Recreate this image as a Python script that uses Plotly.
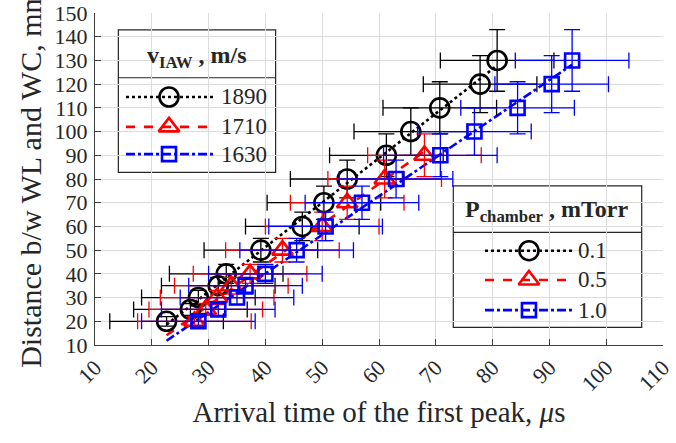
import numpy as np
import plotly.graph_objects as go

# ---- data ----
black_x = [22.6, 26.8, 28.2, 31.7, 33.1, 39.2, 46.5, 50.3, 54.4, 61.3, 65.6, 70.7, 77.8, 80.8]
black_y = [20, 25, 30, 35, 40, 50, 60, 70, 80, 90, 100, 110, 120, 130]
red_x = [27.5, 29.5, 31.5, 34.0, 37.3, 43.0, 50.0, 54.4, 61.0, 68.0]
red_y = [20, 25, 30, 35, 40, 50, 60, 70, 80, 90]
blue_x = [28.2, 31.7, 35.0, 36.5, 40.0, 45.5, 50.6, 57.0, 63.0, 70.8, 76.8, 84.4, 90.4, 94.0]
blue_y = [20, 25, 30, 35, 40, 50, 60, 70, 80, 90, 100, 110, 120, 130]
x_err = 10.0          # +/- arrival-time uncertainty, us
y_err_frac = 0.10     # +/- 10 % distance uncertainty
fit_start = 22.6      # fits drawn from the earliest arrival time

v_labels = ["1890", "1710", "1630"]
p_labels = ["0.1", "0.5", "1.0"]
x_ticks = list(range(10, 111, 10))
y_ticks = list(range(10, 151, 10))

FONT = "Liberation Serif"
TXT = "#262626"

series = [
    dict(x=black_x, y=black_y, color="black", symbol="circle-open", size=19, dash="dot"),
    dict(x=red_x, y=red_y, color="red", symbol="triangle-up-open", size=18, dash="dash"),
    dict(x=blue_x, y=blue_y, color="blue", symbol="square-open", size=14, dash="dashdot"),
]

fig = go.Figure()

# fitted lines
for s in series:
    k, b = np.polyfit(s["x"], s["y"], 1)
    xs = np.array([fit_start, max(s["x"])])
    fig.add_trace(go.Scatter(x=xs, y=k * xs + b, mode="lines",
                             line=dict(color=s["color"], width=2.6, dash=s["dash"]),
                             showlegend=False, hoverinfo="skip"))

# data with error bars
for s in series:
    yy = np.array(s["y"], dtype=float)
    fig.add_trace(go.Scatter(
        x=s["x"], y=s["y"], mode="markers",
        marker=dict(symbol=s["symbol"], size=s["size"], color=s["color"],
                    line=dict(width=2.6, color=s["color"])),
        error_x=dict(type="constant", value=x_err, color=s["color"], thickness=1.3, width=8),
        error_y=dict(type="data", array=yy * y_err_frac, color=s["color"], thickness=1.3, width=8),
        showlegend=False))

# ---- custom legend boxes (paper-like overlay axes) ----
def legend_samples(x0, x1, xm, ys, labels, xl):
    for s, yv, lab in zip(series, ys, labels):
        fig.add_trace(go.Scatter(x=[x0, x1], y=[yv, yv], mode="lines", xaxis="x2", yaxis="y2",
                                 line=dict(color=s["color"], width=2.6, dash=s["dash"]),
                                 showlegend=False, hoverinfo="skip"))
        fig.add_trace(go.Scatter(x=[xm], y=[yv], mode="markers", xaxis="x2", yaxis="y2",
                                 marker=dict(symbol=s["symbol"], size=s["size"], color=s["color"],
                                             line=dict(width=2.6, color=s["color"])),
                                 showlegend=False, hoverinfo="skip"))
        fig.add_annotation(x=xl, y=yv, xref="paper", yref="paper", text=lab, showarrow=False,
                           xanchor="left", yanchor="middle", font=dict(family=FONT, size=23, color=TXT))

legend_samples(0.0546, 0.2077, 0.1303, [0.747, 0.657, 0.575], v_labels, 0.218)
legend_samples(0.6866, 0.8403, 0.764, [0.284, 0.196, 0.105], p_labels, 0.846)

shapes = []
for (x0, x1, y0, y1, ysep) in [(0.0411, 0.318, 0.520, 0.949, 0.805),
                               (0.6308, 0.9625, 0.0533, 0.479, 0.3395)]:
    shapes.append(dict(type="rect", xref="paper", yref="paper", x0=x0, x1=x1, y0=y0, y1=y1,
                       fillcolor="white", line=dict(color=TXT, width=1.2), layer="between"))
    shapes.append(dict(type="line", xref="paper", yref="paper", x0=x0, x1=x1, y0=ysep, y1=ysep,
                       line=dict(color=TXT, width=1.2), layer="between"))

fig.add_annotation(x=0.18, y=0.868, xref="paper", yref="paper",
                   text="<b>v<sub>IAW</sub> , m/s</b>", showarrow=False,
                   xanchor="center", yanchor="middle",
                   font=dict(family=FONT, size=24, color=TXT))
fig.add_annotation(x=0.795, y=0.405, xref="paper", yref="paper",
                   text="<b>P<sub>chamber</sub> , mTorr</b>", showarrow=False,
                   xanchor="center", yanchor="middle",
                   font=dict(family=FONT, size=24, color=TXT))

fig.update_layout(
    width=676, height=443,
    margin=dict(l=95, r=13, t=13, b=98),
    paper_bgcolor="white", plot_bgcolor="white",
    font=dict(family=FONT, color=TXT),
    shapes=shapes,
    xaxis=dict(range=[10, 110], tickvals=x_ticks, ticktext=[str(v) for v in x_ticks],
               tickangle=-45, tickfont=dict(size=22, color=TXT), automargin=False,
               ticks="inside", ticklen=6, tickcolor="#404040",
               showgrid=True, gridcolor="#dcdcdc", gridwidth=1,
               showline=True, linecolor="#404040", linewidth=1.2, zeroline=False,
               title=dict(text="Arrival time of the first peak, <i>μ</i>s",
                          font=dict(size=29, color=TXT), standoff=6)),
    yaxis=dict(range=[10, 150], tickvals=y_ticks, ticktext=[str(v) for v in y_ticks],
               tickfont=dict(size=22, color=TXT), automargin=False, ticklabelstandoff=2,
               ticks="inside", ticklen=6, tickcolor="#404040",
               showgrid=True, gridcolor="#dcdcdc", gridwidth=1,
               showline=True, linecolor="#404040", linewidth=1.2, zeroline=False,
               title=dict(text="Distance b/w WL and WC, mm",
                          font=dict(size=30, color=TXT), standoff=4)),
    xaxis2=dict(range=[0, 1], domain=[0, 1], overlaying="x", visible=False, fixedrange=True),
    yaxis2=dict(range=[0, 1], domain=[0, 1], overlaying="y", visible=False, fixedrange=True),
)

fig.write_html("out.html")
